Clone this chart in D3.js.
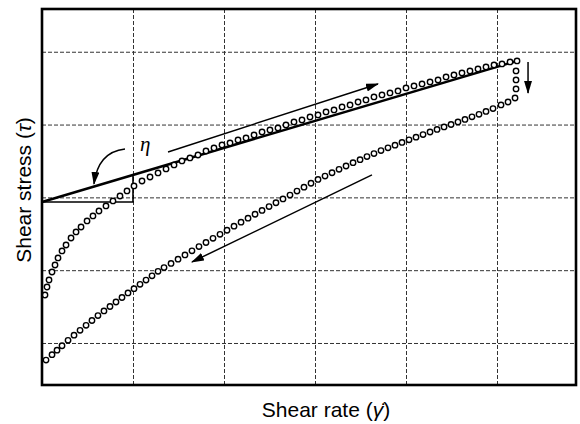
<!DOCTYPE html>
<html>
<head>
<meta charset="utf-8">
<script src="https://cdn.jsdelivr.net/npm/d3@7"></script>
<style>
  body { margin: 0; background: #fff; }
  text { font-family: Arial, "Liberation Sans", Helvetica, sans-serif; }
</style>
</head>
<body>
<div id="chart"></div>
<script>

    // Grid lines (no tick labels in the original, units = grid cells)
    var gridX = [1, 2, 3, 4, 5]
    var gridY = [1, 2, 3, 4, 5]

    // Ramp up branch (shear rate, shear stress)
    var upRate = [0.033, 0.055, 0.077, 0.110, 0.143, 0.176, 0.220, 0.264, 0.319, 0.374,
        0.429, 0.495, 0.560, 0.626, 0.703, 0.780, 0.857, 0.934, 1.011, 1.099,
        1.187, 1.275, 1.363, 1.451, 1.538, 1.626, 1.714, 1.802, 1.890, 1.978,
        2.066, 2.154, 2.242, 2.330, 2.418, 2.505, 2.593, 2.681, 2.769, 2.857,
        2.945, 3.033, 3.121, 3.209, 3.297, 3.385, 3.473, 3.560, 3.648, 3.736,
        3.824, 3.912, 4.000, 4.088, 4.176, 4.264, 4.352, 4.440, 4.527, 4.615,
        4.703, 4.791, 4.879, 4.967, 5.055, 5.143, 5.220]
    var upStress = [1.659, 1.769, 1.865, 1.975, 2.071, 2.168, 2.264, 2.346, 2.442, 2.525,
        2.593, 2.676, 2.745, 2.813, 2.882, 2.951, 3.019, 3.088, 3.157, 3.225,
        3.280, 3.335, 3.390, 3.445, 3.500, 3.541, 3.582, 3.637, 3.679, 3.720,
        3.747, 3.788, 3.816, 3.857, 3.898, 3.926, 3.953, 3.995, 4.036, 4.063,
        4.104, 4.132, 4.173, 4.201, 4.242, 4.269, 4.310, 4.338, 4.379, 4.407,
        4.434, 4.462, 4.503, 4.530, 4.558, 4.585, 4.613, 4.654, 4.681, 4.709,
        4.736, 4.764, 4.791, 4.819, 4.832, 4.860, 4.874]

    // Hold at max rate (stress relaxing)
    var turnRate = [5.209, 5.209, 5.209, 5.198]
    var turnStress = [4.736, 4.613, 4.489, 4.365]

    // Ramp down branch
    var downRate = [5.121, 5.044, 4.956, 4.879, 4.802, 4.725, 4.648, 4.571, 4.495, 4.418,
        4.341, 4.264, 4.187, 4.110, 4.033, 3.956, 3.879, 3.802, 3.725, 3.648,
        3.571, 3.495, 3.418, 3.341, 3.264, 3.187, 3.110, 3.033, 2.956, 2.879,
        2.802, 2.725, 2.648, 2.571, 2.495, 2.418, 2.341, 2.264, 2.187, 2.110,
        2.033, 1.956, 1.879, 1.802, 1.725, 1.648, 1.571, 1.495, 1.418, 1.341,
        1.275, 1.209, 1.143, 1.077, 1.011, 0.945, 0.879, 0.813, 0.747, 0.681,
        0.615, 0.549, 0.484, 0.418, 0.352, 0.286, 0.220, 0.165, 0.110, 0.044]
    var downStress = [4.310, 4.269, 4.220, 4.180, 4.140, 4.106, 4.070, 4.036, 4.001, 3.967,
        3.933, 3.898, 3.863, 3.826, 3.790, 3.754, 3.717, 3.680, 3.643, 3.602,
        3.560, 3.518, 3.477, 3.431, 3.385, 3.338, 3.293, 3.246, 3.194, 3.140,
        3.087, 3.032, 2.978, 2.926, 2.874, 2.820, 2.768, 2.714, 2.659, 2.604,
        2.548, 2.493, 2.437, 2.380, 2.324, 2.266, 2.209, 2.151, 2.093, 2.036,
        1.984, 1.923, 1.864, 1.805, 1.746, 1.687, 1.625, 1.563, 1.501, 1.440,
        1.376, 1.309, 1.242, 1.174, 1.107, 1.036, 0.962, 0.901, 0.839, 0.766]

    // Viscosity tangent line (eta) and slope triangle corner
    var tangentRate = [0, 5.22]
    var tangentStress = [2.937, 4.874]
    var triangleRate = 1

    // Arrows: [rate0, stress0, rate1, stress1]
    var arrowUp = [1.385, 3.624, 3.692, 4.558]
    var arrowDown = [3.626, 3.308, 1.648, 2.113]
    var arrowHold = [5.341, 4.860, 5.341, 4.434]
    var etaArrow = [0.912, 3.665, 0.615, 3.624, 0.571, 3.184] // start, control, tip
    var etaLabel = [1.077, 3.637]


    var margin = {top: 9, left: 42, right: 4, bottom: 39}
    var W = 580, H = 424
    var w = W - margin.left - margin.right
    var h = H - margin.top - margin.bottom

    var svg = d3.select('#chart')
        .append('svg')
        .attr('width', W)
        .attr('height', H)

    var defs = svg.append('defs')
    defs.append('marker')
        .attr('id', 'head')
        .attr('markerUnits', 'userSpaceOnUse')
        .attr('markerWidth', 13)
        .attr('markerHeight', 8)
        .attr('refX', 12)
        .attr('refY', 4)
        .attr('orient', 'auto')
        .append('path')
            .attr('d', 'M0,0 L13,4 L0,8 Z')
            .style('fill', '#000')

    var g = svg.append('g')
        .attr('transform', 'translate(' + margin.left + ',' + margin.top + ')')

    var x = d3.scaleLinear()
        .domain([0, 5.868])
        .range([0, w])

    var y = d3.scaleLinear()
        .domain([0.423, 5.587])
        .range([h, 0])

    // dashed grid
    g.append('g')
        .attr('class', 'grid-x')
        .attr('transform', 'translate(0,' + h + ')')
        .call(d3.axisBottom(x).tickValues(gridX).tickSize(-h).tickFormat(''))
        .call(function(a) { a.select('.domain').remove() })

    g.append('g')
        .attr('class', 'grid-y')
        .call(d3.axisLeft(y).tickValues(gridY).tickSize(-w).tickFormat(''))
        .call(function(a) { a.select('.domain').remove() })

    g.selectAll('.grid-x line, .grid-y line')
        .style('stroke', '#333')
        .style('stroke-width', 1)
        .style('stroke-dasharray', '4,2')

    // tangent line
    g.append('line')
        .attr('x1', x(tangentRate[0]))
        .attr('y1', y(tangentStress[0]))
        .attr('x2', x(tangentRate[1]))
        .attr('y2', y(tangentStress[1]))
        .style('stroke', '#000')
        .style('stroke-width', 2.6)

    // slope triangle
    var slope = (tangentStress[1] - tangentStress[0]) / (tangentRate[1] - tangentRate[0])
    g.append('path')
        .attr('d', d3.line()([
            [x(tangentRate[0]), y(tangentStress[0])],
            [x(triangleRate), y(tangentStress[0])],
            [x(triangleRate), y(tangentStress[0] + slope * triangleRate)]
        ]))
        .style('fill', 'none')
        .style('stroke', '#000')
        .style('stroke-width', 1.6)

    // data points
    var pts = []
    upRate.forEach(function(d, i) { pts.push([d, upStress[i]]) })
    turnRate.forEach(function(d, i) { pts.push([d, turnStress[i]]) })
    downRate.forEach(function(d, i) { pts.push([d, downStress[i]]) })

    g.selectAll('circle.pt')
        .data(pts)
        .enter()
        .append('circle')
            .attr('class', 'pt')
            .attr('cx', function(d) { return x(d[0]) })
            .attr('cy', function(d) { return y(d[1]) })
            .attr('r', 2.7)
            .style('fill', '#fff')
            .style('stroke', '#000')
            .style('stroke-width', 1.4)

    // straight arrows
    ;[arrowUp, arrowDown, arrowHold].forEach(function(a) {
        g.append('line')
            .attr('x1', x(a[0]))
            .attr('y1', y(a[1]))
            .attr('x2', x(a[2]))
            .attr('y2', y(a[3]))
            .style('stroke', '#000')
            .style('stroke-width', 1.5)
            .attr('marker-end', 'url(#head)')
    })

    // curved eta arrow
    var p = d3.path()
    p.moveTo(x(etaArrow[0]), y(etaArrow[1]))
    p.quadraticCurveTo(x(etaArrow[2]), y(etaArrow[3]), x(etaArrow[4]), y(etaArrow[5]))
    g.append('path')
        .attr('d', p.toString())
        .style('fill', 'none')
        .style('stroke', '#000')
        .style('stroke-width', 1.5)
        .attr('marker-end', 'url(#head)')

    g.append('text')
        .attr('x', x(etaLabel[0]))
        .attr('y', y(etaLabel[1]))
        .style('font-family', '"Times New Roman", "Liberation Serif", serif')
        .style('font-style', 'italic')
        .style('font-size', '21px')
        .text('η')

    // frame
    g.append('rect')
        .attr('width', w)
        .attr('height', h)
        .style('fill', 'none')
        .style('stroke', '#000')
        .style('stroke-width', 2.6)

    // axis titles
    var xt = svg.append('text')
        .attr('x', 326)
        .attr('y', 417)
        .attr('text-anchor', 'middle')
        .style('font-size', '21px')
    xt.append('tspan').text('Shear rate (')
    xt.append('tspan').style('font-style', 'italic').text('γ\u0307')
    xt.append('tspan').text(')')

    var yt = svg.append('text')
        .attr('transform', 'translate(31,' + 190 + ') rotate(-90)')
        .attr('text-anchor', 'middle')
        .style('font-size', '21px')
    yt.append('tspan').text('Shear stress (')
    yt.append('tspan').style('font-style', 'italic').text('τ')
    yt.append('tspan').text(')')

</script>
</body>
</html>
